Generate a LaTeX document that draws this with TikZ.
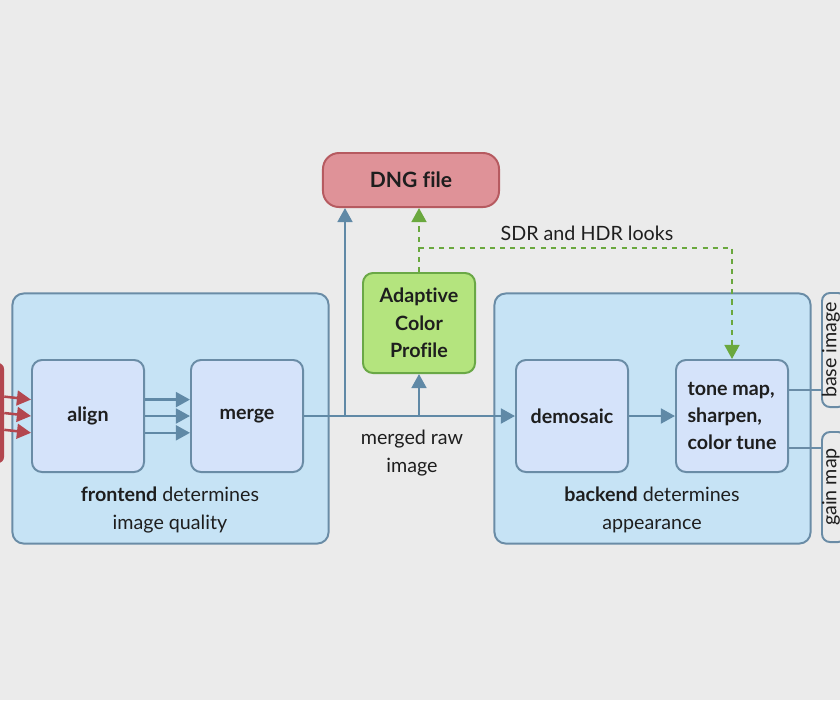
\documentclass[tikz,border=0pt]{standalone}
\usepackage{fontspec}
\setsansfont{Lato}[Ligatures=NoCommon]
\usetikzlibrary{arrows.meta}
\definecolor{bgray}{HTML}{EBEBEB}
\definecolor{groupfill}{HTML}{C6E3F5}
\definecolor{stagefill}{HTML}{D5E3FA}
\definecolor{boxline}{HTML}{6A8CA6}
\definecolor{flowblue}{HTML}{6089A6}
\definecolor{rawred}{HTML}{B3474F}
\definecolor{dngfill}{HTML}{DF9298}
\definecolor{dngline}{HTML}{B65A60}
\definecolor{acpfill}{HTML}{B4E47E}
\definecolor{acpline}{HTML}{6AA846}
\definecolor{lookgreen}{HTML}{6AA83E}
\definecolor{txt}{HTML}{1E1E1E}

\begin{document}
\begin{tikzpicture}[x=0.025cm,y=-0.025cm,>={Triangle[length=10pt,width=10.5pt]},
    font=\sffamily\fontsize{14}{19.5}\selectfont, text=txt,
    group/.style={draw=boxline, fill=groupfill, line width=1.4pt, rounded corners=0.28cm,
        minimum width=7.9cm, minimum height=6.25cm},
    stage/.style={draw=boxline, fill=stagefill, line width=1.4pt, rounded corners=0.25cm,
        minimum width=2.8cm, minimum height=2.8cm, font=\sffamily\bfseries\fontsize{14}{19.5}\selectfont},
    side/.style={draw=boxline, fill=bgray, line width=1.4pt, rounded corners=0.2cm, minimum width=0.6cm},
    flow/.style={->, draw=flowblue, line width=1.8pt},
    look/.style={->, draw=lookgreen, line width=1.7pt, dash pattern=on 3.6pt off 3.6pt}]

    \fill[bgray] (0,0) rectangle (840,700);
    \useasboundingbox (0,0) rectangle (840,700);
    \clip (0,0) rectangle (840,700);

    \node[fill=rawred, rounded corners=0.15cm, minimum width=0.7cm, minimum height=2.5cm] (raw) at (-10,413) {};

    \node[group] (front) at (170.5,418.5) {};
    \node[group] (back) at (652.5,418.5) {};
    \node[align=center] (fronttxt) at (170,510) {\textbf{frontend} determines\\image quality};
    \node[align=center] (backtxt) at (652,510) {\textbf{backend} determines\\appearance};

    \node[stage] (align) at (88,416) {align};
    \node[stage] (merge) at (247,416) {merge};
    \node[stage] (demosaic) at (572,416) {demosaic};
    \node[stage, align=left] (tone) at (732,416) {tone map,\\sharpen,\\color tune};

    \node[draw=acpline, fill=acpfill, line width=1.4pt, rounded corners=0.25cm, minimum width=2.8cm,
        minimum height=2.5cm, align=center, font=\sffamily\bfseries\fontsize{14}{19.5}\selectfont]
        (acp) at (419,323) {Adaptive\\Color\\Profile};
    \node[draw=dngline, fill=dngfill, line width=1.4pt, rounded corners=0.4cm, minimum width=4.4cm,
        minimum height=1.35cm, font=\sffamily\bfseries\fontsize{15}{19.5}\selectfont]
        (dng) at (411,180) {DNG file};

    \node[side, minimum height=2.85cm] (base) at (834,350) {};
    \node[side, minimum height=2.75cm] (gain) at (834,487) {};
    \node[rotate=90] (basetxt) at (831,350) {base image};
    \node[rotate=90] (gaintxt) at (831,487) {gain map};

    \foreach \s in {0.41,0,-0.42}
        \draw[->, draw=rawred, fill=rawred, line width=1.8pt] ([yshift=\s cm]raw.east) -- ([yshift=\s cm]align.west);
    \foreach \s in {0.41,0,-0.42}
        \draw[flow] ([yshift=\s cm]align.east) -- ([yshift=\s cm]merge.west);

    \draw[flow] (merge) -- (demosaic);
    \draw[flow] (demosaic) -- (tone);
    \coordinate (fork) at (345,416);
    \draw[flow] (fork) -- (fork |- dng.south);
    \draw[flow] (acp.south |- fork) -- (acp.south);
    \node[align=center] (rawtxt) at (412,453) {merged raw\\image};

    \draw[look] (acp.north) -- (acp.north |- dng.south);
    \coordinate (looks) at (419,248);
    \draw[look] (looks) -- (looks -| tone.north) -- (tone.north);
    \node (sdr) at (587,233) {SDR and HDR looks};

    \draw[draw=boxline, line width=1.5pt] ([yshift=0.65cm]tone.east) -- ([yshift=0.65cm]tone.east -| base.west);
    \draw[draw=boxline, line width=1.5pt] ([yshift=-0.8cm]tone.east) -- ([yshift=-0.8cm]tone.east -| gain.west);

\end{tikzpicture}
\end{document}
